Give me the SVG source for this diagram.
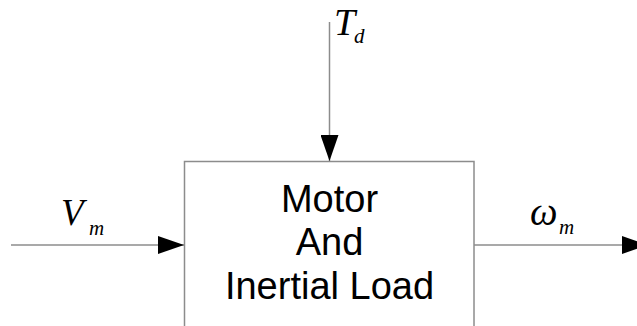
<svg xmlns="http://www.w3.org/2000/svg" width="637" height="326" viewBox="0 0 637 326">
<style>
.ln{stroke:#8c8c8c;stroke-width:1.5;fill:none}
.box{stroke:#8c8c8c;stroke-width:1.5;fill:#fff}
.lbl{font-family:"Liberation Sans",Arial,sans-serif;font-size:38px;fill:#000;text-anchor:middle}
.m{font-family:"Liberation Serif","Times New Roman",serif;font-style:italic;fill:#000}
</style>
<defs>
<marker id="ah" markerUnits="userSpaceOnUse" markerWidth="26" markerHeight="18" refX="26" refY="9" orient="auto">
<path d="M0,0 L26,9 L0,18 Z" fill="#000"/>
</marker>
</defs>
<g id="block">
<rect class="box" x="184.5" y="161.5" width="289.5" height="180"/>
<text class="lbl" x="329.5" y="211.5">Motor</text>
<text class="lbl" x="329.5" y="255">And</text>
<text class="lbl" x="329.5" y="299">Inertial Load</text>
</g>
<g id="connectors">
<line class="ln" x1="329.5" y1="22" x2="329.5" y2="161" marker-end="url(#ah)"/>
<line class="ln" x1="11" y1="245" x2="184" y2="245" marker-end="url(#ah)"/>
<line class="ln" x1="474" y1="245" x2="648" y2="245" marker-end="url(#ah)"/>
</g>
<g id="label-Td">
<text class="m" x="334" y="35" font-size="38">T</text>
<text class="m" x="354" y="43" font-size="21">d</text>
</g>
<g id="label-Vm">
<text class="m" x="61" y="225" font-size="37">V</text>
<text class="m" x="89" y="235" font-size="21">m</text>
</g>
<g id="label-wm">
<text class="m" x="530" y="225" font-size="39">ω</text>
<text class="m" x="559" y="234" font-size="21">m</text>
</g>
</svg>
